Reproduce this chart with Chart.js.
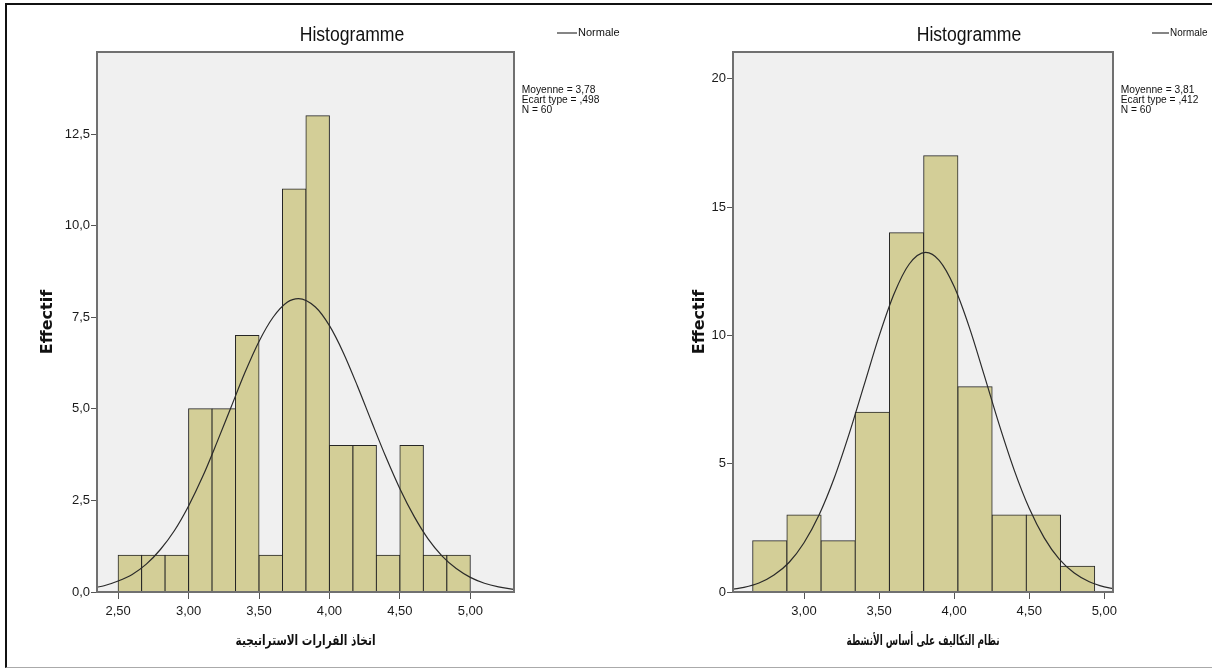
<!DOCTYPE html>
<html>
<head>
<meta charset="utf-8">
<script src="https://cdn.jsdelivr.net/npm/chart.js@4.4.1/dist/chart.umd.min.js"></script>
<style>
  html, body { margin: 0; padding: 0; background: #fff; }
  body { width: 1212px; height: 668px; position: relative; overflow: hidden; }
  #cadre { position: absolute; left: 5px; top: 3px; right: 0; height: 662px;
           border-left: 2px solid #111; border-top: 2px solid #111; border-bottom: 1px solid #aaa; }
  .graphe { position: absolute; top: 0; height: 668px; }
  #g1 { left: 0; width: 640px; }
  #g2 { left: 640px; width: 572px; }
</style>
</head>
<body>
<div id="cadre"></div>
<div class="graphe" id="g1"><canvas id="histoGauche"></canvas></div>
<div class="graphe" id="g2"><canvas id="histoDroite"></canvas></div>
<script>
// --- histogramme de gauche : اتخاذ القرارات الاستراتيجية
const gaucheBornes = [2.500, 2.667, 2.833, 3.000, 3.167, 3.333, 3.500, 3.667, 3.833, 4.000, 4.167, 4.333, 4.500, 4.667, 4.833, 5.000];
const gaucheEffectifs = [1, 1, 1, 5, 5, 7, 1, 11, 13, 4, 4, 1, 4, 1, 1];
const gaucheCourbeX = [2.35, 2.4, 2.5, 2.6, 2.7, 2.8, 2.9, 3.0, 3.1, 3.2, 3.3, 3.4, 3.5, 3.6, 3.7, 3.78, 3.9, 4.0, 4.1, 4.2, 4.3, 4.4, 4.5, 4.6, 4.7, 4.8, 4.9, 5.0, 5.1, 5.2, 5.31];
const gaucheCourbeY = [0.13, 0.17, 0.30, 0.48, 0.76, 1.16, 1.68, 2.35, 3.15, 4.07, 5.03, 5.99, 6.84, 7.50, 7.91, 8.01, 7.78, 7.27, 6.52, 5.61, 4.64, 3.69, 2.82, 2.07, 1.45, 0.98, 0.64, 0.40, 0.24, 0.14, 0.07];
const gaucheTicksX = [2.5, 3.0, 3.5, 4.0, 4.5, 5.0];
const gaucheTicksY = [0, 2.5, 5, 7.5, 10, 12.5];
const gaucheStats = ["Moyenne = 3,78", "Ecart type = ,498", "N = 60"];

// --- histogramme de droite : نظام التكاليف على أساس الأنشطة
const droiteBornes = [2.658, 2.886, 3.114, 3.341, 3.569, 3.797, 4.025, 4.253, 4.481, 4.708, 4.936];
const droiteEffectifs = [2, 3, 2, 7, 14, 17, 8, 3, 3, 1];
const droiteCourbeX = [2.53, 2.6, 2.7, 2.8, 2.9, 3.0, 3.1, 3.2, 3.3, 3.4, 3.5, 3.6, 3.7, 3.81, 3.9, 4.0, 4.1, 4.2, 4.3, 4.4, 4.5, 4.6, 4.7, 4.8, 4.9, 5.0, 5.06];
const droiteCourbeY = [0.11, 0.18, 0.35, 0.66, 1.15, 1.92, 3.00, 4.42, 6.15, 8.06, 9.97, 11.62, 12.77, 13.23, 12.92, 11.90, 10.33, 8.45, 6.52, 4.75, 3.26, 2.11, 1.28, 0.74, 0.40, 0.20, 0.13];
const droiteTicksX = [3.0, 3.5, 4.0, 4.5, 5.0];
const droiteTicksY = [0, 5, 10, 15, 20];
const droiteStats = ["Moyenne = 3,81", "Ecart type = ,412", "N = 60"];

const POLICE = "'Liberation Sans', Arial, sans-serif";

// texte compressé horizontalement (SPSS utilise une police étroite)
function texteEtroit(ctx, texte, x, y, echelle, align) {
  ctx.save();
  ctx.translate(x, y);
  ctx.scale(echelle, 1);
  ctx.textAlign = align;
  ctx.fillText(texte, 0, 0);
  ctx.restore();
}

// fond gris, cadre et textes SPSS (titre, légende, statistiques, titre de l'axe x)
const decorSpss = {
  id: "decorSpss",
  beforeDraw(chart) {
    const { ctx, chartArea: a } = chart;
    ctx.save();
    ctx.fillStyle = "#f0f0f0";
    ctx.fillRect(a.left, a.top, a.right - a.left, a.bottom - a.top);
    ctx.restore();
  },
  afterDatasetsDraw(chart) {
    const { ctx, chartArea: a } = chart;
    ctx.save();
    ctx.strokeStyle = "#707070";
    ctx.lineWidth = 2;
    ctx.strokeRect(a.left, a.top, a.right - a.left, a.bottom - a.top);
    ctx.restore();
  },
  afterDraw(chart, args, opts) {
    const ctx = chart.ctx;
    const a = chart.chartArea;
    ctx.save();
    ctx.fillStyle = "#111";
    ctx.textBaseline = "middle";

    ctx.font = "20px " + POLICE;
    texteEtroit(ctx, "Histogramme", opts.titreX, opts.titreY, 0.88, "center");

    ctx.strokeStyle = "#333";
    ctx.lineWidth = 1.2;
    ctx.beginPath();
    ctx.moveTo(opts.legendeX, opts.legendeY);
    ctx.lineTo(opts.legendeX + opts.legendeLong, opts.legendeY);
    ctx.stroke();
    ctx.font = "11px " + POLICE;
    texteEtroit(ctx, "Normale", opts.legendeX + opts.legendeLong + 1, opts.legendeY, opts.legendeEchelle, "left");

    opts.stats.forEach((ligne, i) => {
      texteEtroit(ctx, ligne, opts.statsX, opts.statsY + i * 9.8, 0.93, "left");
    });

    // titre de l'axe horizontal, en arabe
    ctx.font = "bold 14px 'DejaVu Sans'";
    const largeur = ctx.measureText(opts.axeX).width;
    texteEtroit(ctx, opts.axeX, (a.left + a.right) / 2, 641, opts.axeXLargeur / largeur, "center");
    ctx.restore();
  }
};

function creerHistogramme(idCanvas, p) {
  const barres = p.effectifs.map((n, i) => ({ x: (p.bornes[i] + p.bornes[i + 1]) / 2, y: n }));
  const courbe = p.courbeX.map((x, i) => ({ x: x, y: p.courbeY[i] }));

  new Chart(document.getElementById(idCanvas), {
    type: "bar",
    data: {
      datasets: [
        {
          type: "line",
          label: "Normale",
          data: courbe,
          borderColor: "#2a2a2a",
          borderWidth: 1.2,
          pointRadius: 0,
          fill: false,
          cubicInterpolationMode: "monotone",
          order: 0
        },
        {
          label: "Effectif",
          data: barres,
          backgroundColor: "#d3ce97",
          borderColor: "#262626",
          borderWidth: 1,
          borderSkipped: false,
          inflateAmount: 0.5,
          barPercentage: 1,
          categoryPercentage: 1,
          order: 1
        }
      ]
    },
    options: {
      responsive: true,
      maintainAspectRatio: false,
      animation: false,
      events: [],
      layout: { padding: { left: 0, top: 52, right: p.margeDroite, bottom: 0 } },
      plugins: {
        legend: { display: false },
        title: { display: false },
        tooltip: { enabled: false },
        decorSpss: p.decor
      },
      scales: {
        x: {
          type: "linear",
          min: p.xMin,
          max: p.xMax,
          offset: false,
          afterBuildTicks: (s) => { s.ticks = p.ticksX.map((v) => ({ value: v })); },
          afterFit: (s) => { s.height = 76; },
          ticks: {
            autoSkip: false,
            maxRotation: 0,
            padding: 5,
            color: "#1a1a1a",
            font: { family: POLICE, size: 13 },
            callback: (v) => v.toFixed(2).replace(".", ",")
          },
          grid: { drawOnChartArea: false, tickLength: 7, tickColor: "#555", offset: false },
          border: { display: false },
          title: { display: false }
        },
        y: {
          min: 0,
          max: p.yMax,
          afterBuildTicks: (s) => { s.ticks = p.ticksY.map((v) => ({ value: v })); },
          afterFit: (s) => { s.width = p.largeurY; },
          ticks: {
            padding: 1,
            color: "#1a1a1a",
            font: { family: POLICE, size: 13 },
            callback: p.formatY
          },
          grid: { drawOnChartArea: false, tickLength: 6, tickColor: "#555" },
          border: { display: false },
          title: {
            display: true,
            text: "Effectif",
            color: "#111",
            font: { family: "'DejaVu Sans'", size: 16, weight: "bold" },
            padding: { top: p.titreYPad, bottom: 0 }
          }
        }
      }
    },
    plugins: [decorSpss]
  });
}

creerHistogramme("histoGauche", {
  bornes: gaucheBornes,
  effectifs: gaucheEffectifs,
  courbeX: gaucheCourbeX,
  courbeY: gaucheCourbeY,
  ticksX: gaucheTicksX,
  ticksY: gaucheTicksY,
  xMin: 2.35,
  xMax: 5.31,
  yMax: 14.74,
  largeurY: 97,
  margeDroite: 126,
  titreYPad: 38.4,
  formatY: (v) => v.toFixed(1).replace(".", ","),
  decor: {
    titreX: 352, titreY: 35,
    legendeX: 557, legendeY: 33, legendeLong: 20, legendeEchelle: 1.0,
    statsX: 521.7, statsY: 90, stats: gaucheStats,
    axeX: "اتخاذ القرارات الاستراتيجية", axeXLargeur: 140
  }
});

creerHistogramme("histoDroite", {
  bornes: droiteBornes,
  effectifs: droiteEffectifs,
  courbeX: droiteCourbeX,
  courbeY: droiteCourbeY,
  ticksX: droiteTicksX,
  ticksY: droiteTicksY,
  xMin: 2.527,
  xMax: 5.058,
  yMax: 21.04,
  largeurY: 93,
  margeDroite: 99,
  titreYPad: 50.4,
  formatY: (v) => String(v),
  decor: {
    titreX: 329, titreY: 35,
    legendeX: 512, legendeY: 33, legendeLong: 17, legendeEchelle: 0.9,
    statsX: 480.7, statsY: 90, stats: droiteStats,
    axeX: "نظام التكاليف على أساس الأنشطة", axeXLargeur: 153
  }
});
</script>
</body>
</html>
